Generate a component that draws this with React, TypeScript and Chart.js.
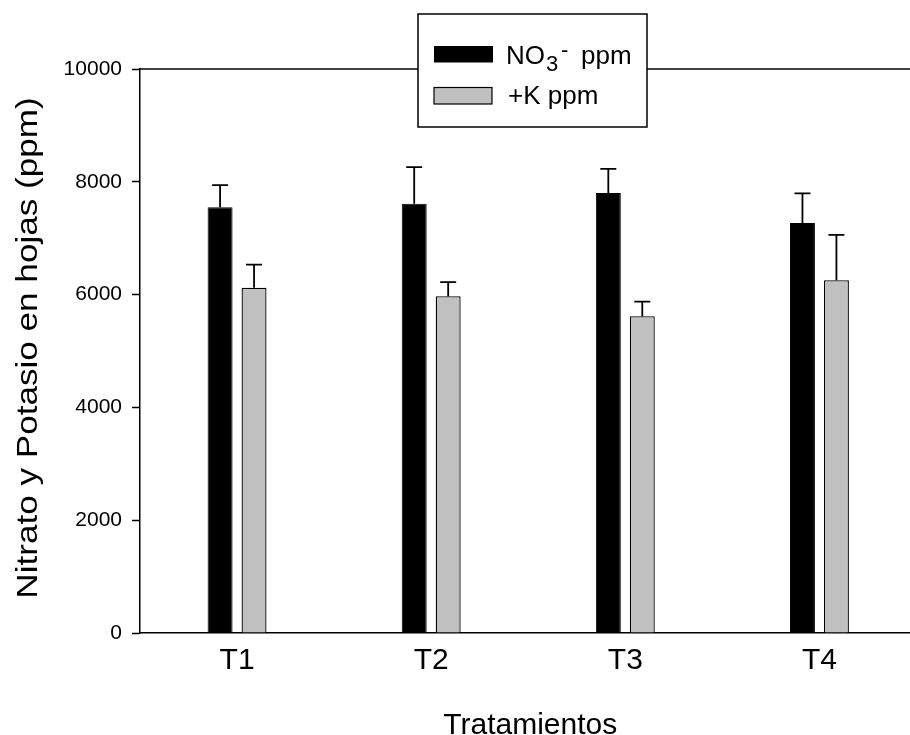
import React, { useEffect, useRef } from "react";
import { Chart, registerables } from "chart.js";

Chart.register(...registerables);

const categories = ["T1", "T2", "T3", "T4"];
const no3Values = [7550, 7610, 7800, 7270];
const no3Errors = [390, 650, 430, 525];
const kValues = [6120, 5970, 5615, 6255];
const kErrors = [410, 250, 260, 805];
const yTicks = [0, 2000, 4000, 6000, 8000, 10000];

const yTitle = "Nitrato y Potasio en hojas (ppm)";
const xTitle = "Tratamientos";

const FONT = "'Liberation Sans', Arial, Helvetica, sans-serif";
const CANVAS_W = 930;
const CANVAS_H = 735;

const errorsBySeries = [no3Errors, kErrors];

const decorPlugin = {
  id: "decor",
  afterDatasetsDraw(chart: any) {
    const ctx = chart.ctx;
    const yScale = chart.scales.y;
    ctx.save();
    ctx.strokeStyle = "#000";
    ctx.lineWidth = 1.8;
    chart.data.datasets.forEach((ds: any, di: number) => {
      const meta = chart.getDatasetMeta(di);
      meta.data.forEach((el: any, i: number) => {
        const v = ds.data[i];
        const e = errorsBySeries[di][i];
        const yTop = yScale.getPixelForValue(v + e);
        const x = el.x;
        ctx.beginPath();
        ctx.moveTo(x, el.y);
        ctx.lineTo(x, yTop);
        ctx.moveTo(x - 8, yTop);
        ctx.lineTo(x + 8, yTop);
        ctx.stroke();
      });
    });
    ctx.restore();
  },
  afterDraw(chart: any) {
    const ctx = chart.ctx;
    const area = chart.chartArea;
    const xScale = chart.scales.x;
    ctx.save();
    // top frame line
    ctx.strokeStyle = "#000";
    ctx.lineWidth = 1.5;
    ctx.beginPath();
    ctx.moveTo(area.left, area.top);
    ctx.lineTo(CANVAS_W, area.top);
    ctx.stroke();

    // category labels
    ctx.fillStyle = "#000";
    ctx.font = `30px ${FONT}`;
    ctx.textAlign = "center";
    ctx.textBaseline = "alphabetic";
    categories.forEach((c, i) => {
      ctx.fillText(c, xScale.getPixelForValue(i), 668.5);
    });

    // x title
    ctx.fillText(xTitle, (area.left + area.right) / 2 + 2, 734);

    // y title
    ctx.save();
    ctx.translate(37, 348);
    ctx.rotate(-Math.PI / 2);
    ctx.scale(1.17, 1);
    ctx.textAlign = "center";
    ctx.fillText(yTitle, 0, 0);
    ctx.restore();

    // legend box
    ctx.fillStyle = "#fff";
    ctx.fillRect(418, 14, 229, 113);
    ctx.strokeStyle = "#000";
    ctx.lineWidth = 1.5;
    ctx.strokeRect(418, 14, 229, 113);

    ctx.fillStyle = "#000";
    ctx.fillRect(434, 46, 59, 16.5);
    ctx.fillStyle = "#c0c0c0";
    ctx.fillRect(434, 87.5, 58, 16.5);
    ctx.lineWidth = 1.2;
    ctx.strokeRect(434, 87.5, 58, 16.5);

    ctx.fillStyle = "#000";
    ctx.textAlign = "left";
    ctx.font = `26px ${FONT}`;
    ctx.fillText("NO", 506, 63.5);
    ctx.font = `22px ${FONT}`;
    ctx.fillText("3", 546, 70.5);
    ctx.fillText("-", 561, 56.5);
    ctx.font = `26px ${FONT}`;
    ctx.fillText("ppm", 581, 63.5);
    ctx.fillText("+K ppm", 508, 104);
    ctx.restore();
  },
};

export default function App() {
  const ref = useRef<HTMLCanvasElement | null>(null);

  useEffect(() => {
    if (!ref.current) return;
    const chart = new Chart(ref.current, {
      type: "bar",
      data: {
        labels: categories,
        datasets: [
          {
            label: "NO3- ppm",
            data: no3Values,
            backgroundColor: "#000000",
            borderColor: "#000000",
            borderWidth: 1,
            categoryPercentage: 0.35,
            barPercentage: 0.735,
          },
          {
            label: "+K ppm",
            data: kValues,
            backgroundColor: "#c0c0c0",
            borderColor: "#000000",
            borderWidth: 1.3,
            categoryPercentage: 0.35,
            barPercentage: 0.735,
          },
        ],
      },
      options: {
        responsive: false,
        animation: false,
        devicePixelRatio: 1,
        layout: { padding: { top: 69, right: CANVAS_W - 916.5, bottom: 0, left: 0 } },
        plugins: {
          legend: { display: false },
          tooltip: { enabled: false },
          title: { display: false },
        },
        scales: {
          x: {
            type: "category",
            offset: true,
            grid: { display: false },
            border: { display: true, color: "#000", width: 1.5 },
            ticks: { display: false },
            afterFit: (scale: any) => {
              scale.height = CANVAS_H - 633;
            },
          },
          y: {
            min: 0,
            max: 10000,
            afterBuildTicks: (scale: any) => {
              scale.ticks = yTicks.map((v) => ({ value: v }));
            },
            afterFit: (scale: any) => {
              scale.width = 140;
            },
            grid: {
              display: true,
              drawOnChartArea: false,
              drawTicks: true,
              tickLength: 8,
              tickWidth: 1.5,
              tickColor: "#000",
              color: "#000",
            },
            border: { display: true, color: "#000", width: 1.5 },
            ticks: {
              color: "#000",
              padding: 10,
              font: { family: FONT, size: 21 },
              callback: (v: any) => String(v),
            },
          },
        },
      },
      plugins: [decorPlugin],
    });
    return () => chart.destroy();
  }, []);

  return (
    <div
      style={{
        position: "fixed",
        left: 0,
        top: 0,
        width: 910,
        height: 735,
        overflow: "hidden",
        background: "#fff",
      }}
    >
      <canvas
        ref={ref}
        width={CANVAS_W}
        height={CANVAS_H}
        style={{ display: "block", width: CANVAS_W, height: CANVAS_H }}
      />
    </div>
  );
}
